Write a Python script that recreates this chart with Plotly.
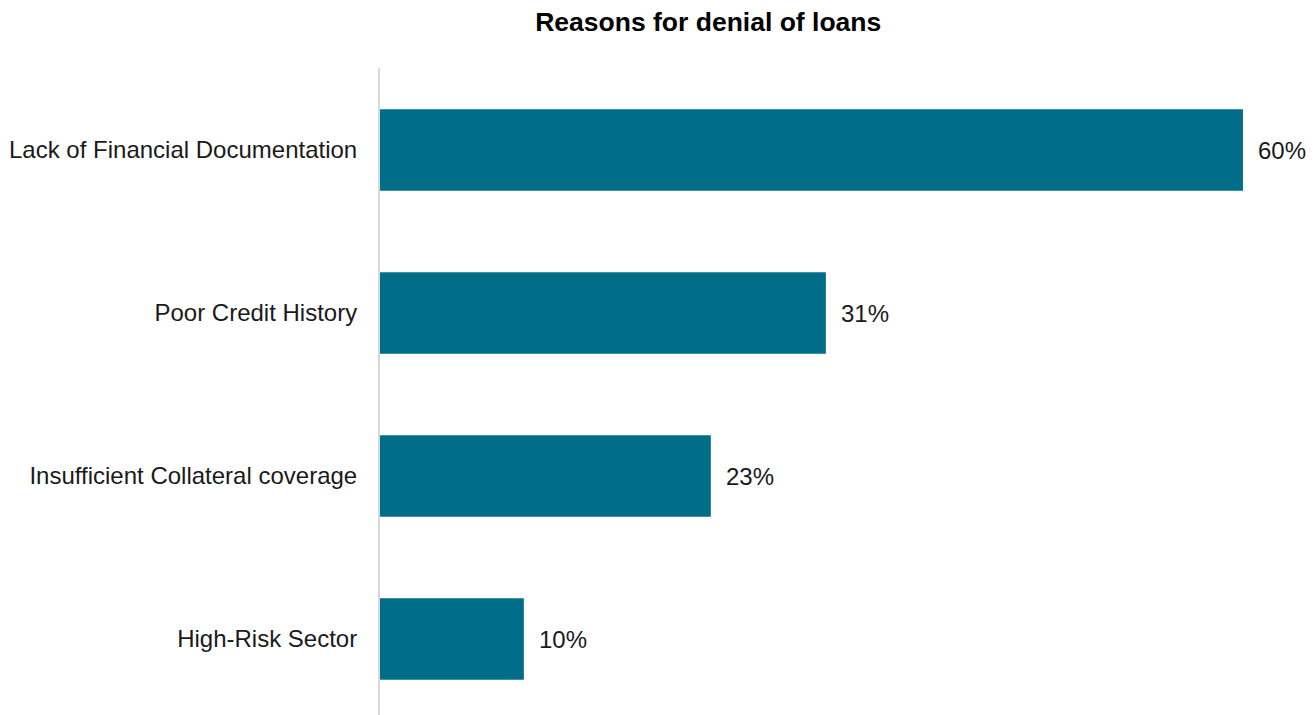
import plotly.graph_objects as go

# Loan denial reasons and their shares (%)
reasons = [
    "Lack of Financial Documentation",
    "Poor Credit History",
    "Insufficient Collateral coverage",
    "High-Risk Sector",
]
shares = [60, 31, 23, 10]
share_labels = [f"{v}%" for v in shares]

BAR_COLOR = "#016e89"
FONT = "Liberation Sans, Arial, sans-serif"

fig = go.Figure(
    go.Bar(
        x=shares,
        y=reasons,
        orientation="h",
        marker=dict(color=BAR_COLOR, line=dict(width=0)),
        width=0.5,
        hoverinfo="skip",
    )
)

# Value labels to the right of each bar
for r, v, lab in zip(reasons, shares, share_labels):
    fig.add_annotation(
        x=v, y=r, text=lab, showarrow=False,
        xanchor="left", yanchor="middle", xshift=13,
        font=dict(family=FONT, size=24, color="#1a1a1a"),
    )

fig.update_layout(
    width=1314,
    height=715,
    margin=dict(l=380, r=0, t=68, b=0),
    paper_bgcolor="white",
    plot_bgcolor="white",
    showlegend=False,
    title=dict(
        text="<b>Reasons for denial of loans</b>",
        x=0.539, xanchor="center",
        y=1 - 22 / 715, yanchor="middle",
        font=dict(family=FONT, size=26.5, color="#000000"),
    ),
    xaxis=dict(
        range=[0, 64.94],
        showgrid=False, zeroline=False, showticklabels=False,
        showline=False, ticks="",
    ),
    yaxis=dict(
        type="category",
        categoryorder="array",
        categoryarray=reasons,
        range=[3.466, -0.503],
        showgrid=False, zeroline=False,
        showline=True, linecolor="#d9d9d9", linewidth=2,
        ticks="", ticklabelstandoff=16,
        tickfont=dict(family=FONT, size=24, color="#1a1a1a"),
    ),
)

fig.write_html("out.html")
